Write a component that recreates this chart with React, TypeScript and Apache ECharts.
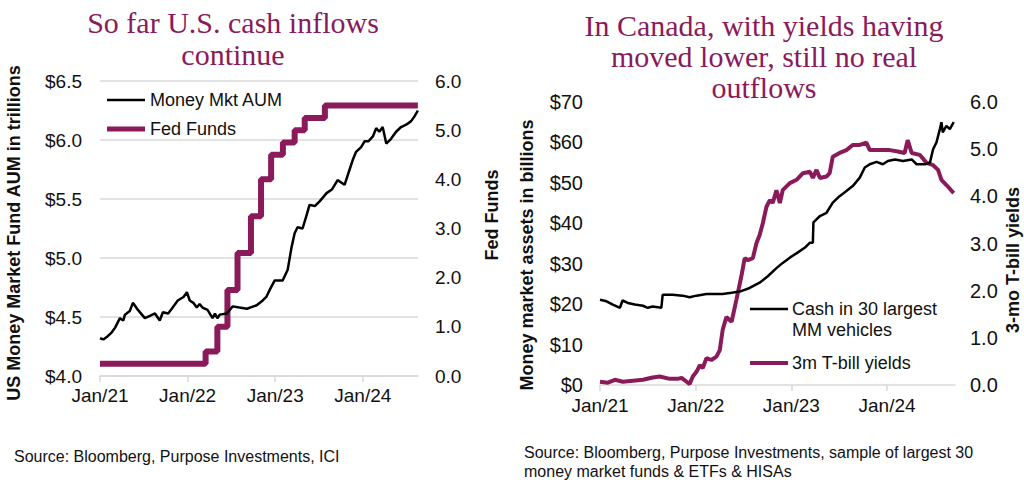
import React, { useEffect, useRef } from "react";
import * as echarts from "echarts";

const MAROON = "#8B1A5B";
const INK = "#111111";
const GRID = "#d9d9d9";
const SANS = "Liberation Sans, Arial, sans-serif";
const SERIF = "Liberation Serif, Times New Roman, serif";

// ---------- Left chart: U.S. ----------
const usTitle = "So far U.S. cash inflows\ncontinue";
const aumDates = [
  "2021-01-01", "2021-01-15", "2021-01-29", "2021-02-19", "2021-03-05", "2021-03-25", "2021-04-08",
  "2021-04-15", "2021-05-05", "2021-05-18", "2021-06-08", "2021-07-07", "2021-07-28", "2021-08-18",
  "2021-09-07", "2021-09-20", "2021-10-12", "2021-10-27", "2021-11-21", "2021-12-15", "2021-12-29",
  "2022-01-10", "2022-01-25", "2022-02-08", "2022-02-20", "2022-03-04", "2022-03-25", "2022-04-15",
  "2022-04-25", "2022-05-05", "2022-05-15", "2022-06-13", "2022-07-08", "2022-08-05", "2022-09-05",
  "2022-10-16", "2022-11-10", "2022-11-25", "2022-12-09", "2022-12-30", "2023-02-01", "2023-02-22",
  "2023-03-10", "2023-03-23", "2023-04-04", "2023-04-25", "2023-05-10", "2023-05-24", "2023-06-15",
  "2023-07-05", "2023-08-03", "2023-08-25", "2023-09-18", "2023-10-17", "2023-11-07", "2023-11-20",
  "2023-12-04", "2023-12-25", "2024-01-09", "2024-01-25", "2024-02-12", "2024-02-26", "2024-03-10",
  "2024-03-24", "2024-04-08", "2024-04-28", "2024-05-19", "2024-06-09", "2024-06-30", "2024-07-21",
  "2024-08-04", "2024-08-18",
];
const aumValues = [
  4.32, 4.31, 4.33, 4.37, 4.41, 4.49, 4.47,
  4.52, 4.55, 4.62, 4.56, 4.49, 4.51, 4.53,
  4.47, 4.54, 4.53, 4.57, 4.64, 4.67, 4.71,
  4.64, 4.62, 4.58, 4.61, 4.58, 4.56, 4.49,
  4.53, 4.49, 4.52, 4.53, 4.59, 4.58, 4.57,
  4.60, 4.64, 4.67, 4.73, 4.81, 4.81, 4.90,
  5.09, 5.21, 5.26, 5.25, 5.35, 5.45, 5.44,
  5.48, 5.55, 5.58, 5.66, 5.62, 5.75, 5.83,
  5.90, 5.94, 5.99, 5.99, 6.03, 6.10, 6.07,
  6.11, 5.97, 6.01, 6.07, 6.11, 6.13, 6.16,
  6.20, 6.25,
];
const fedDates = [
  "2021-01-01", "2022-03-17", "2022-05-05", "2022-06-16", "2022-07-28", "2022-09-22",
  "2022-11-03", "2022-12-15", "2023-02-02", "2023-03-23", "2023-05-04", "2023-07-27", "2024-08-18",
];
const fedValues = [0.25, 0.5, 1.0, 1.75, 2.5, 3.25, 4.0, 4.5, 4.75, 5.0, 5.25, 5.5, 5.5];

// ---------- Right chart: Canada ----------
const caTitle = "In Canada, with yields having\nmoved lower, still no real\noutflows";
const cashDates = [
  "2021-01-01", "2021-01-26", "2021-02-19", "2021-03-18", "2021-03-28", "2021-04-17", "2021-05-14",
  "2021-06-14", "2021-07-02", "2021-07-21", "2021-08-23", "2021-08-28", "2021-10-05", "2021-11-12",
  "2021-12-09", "2022-01-04", "2022-02-11", "2022-04-14", "2022-05-18", "2022-06-18", "2022-07-26",
  "2022-09-02", "2022-10-03", "2022-11-05", "2022-11-29", "2022-12-26", "2023-01-26", "2023-02-22",
  "2023-03-13", "2023-03-24", "2023-03-26", "2023-04-20", "2023-05-15", "2023-06-08", "2023-07-04",
  "2023-07-30", "2023-08-23", "2023-09-19", "2023-10-08", "2023-10-27", "2023-11-22", "2023-12-16",
  "2024-01-04", "2024-01-31", "2024-03-02", "2024-04-04", "2024-04-23", "2024-05-25", "2024-06-13",
  "2024-06-25", "2024-07-08", "2024-07-21", "2024-07-27", "2024-08-01", "2024-08-15", "2024-08-28",
  "2024-09-12",
];
const cashValues = [
  21.1, 20.7, 19.9, 19.1, 20.9, 20.3, 19.9,
  19.6, 19.1, 19.4, 19.1, 22.3, 22.3, 22.1,
  21.7, 22.1, 22.5, 22.5, 22.8, 23.1, 24.0,
  25.3, 26.9, 28.9, 30.2, 31.5, 32.8, 34.0,
  35.2, 35.2, 40.2, 41.8, 42.6, 45.1, 46.7,
  48.0, 49.2, 51.3, 53.8, 54.6, 55.2, 54.6,
  55.4, 55.8, 55.4, 55.8, 54.6, 54.6, 55.0,
  58.3, 60.0, 63.3, 65.0, 62.5, 64.1, 63.3,
  65.0,
];
const tbillDates = [
  "2021-01-01", "2021-01-31", "2021-02-27", "2021-03-29", "2021-05-06", "2021-06-14", "2021-07-21",
  "2021-08-17", "2021-09-24", "2021-10-24", "2021-11-08", "2021-11-27", "2021-12-09", "2021-12-21",
  "2022-01-04", "2022-01-17", "2022-01-28", "2022-02-11", "2022-03-02", "2022-03-21", "2022-04-03",
  "2022-04-14", "2022-04-28", "2022-05-18", "2022-06-05", "2022-06-24", "2022-07-07", "2022-07-19",
  "2022-08-07", "2022-08-21", "2022-09-02", "2022-09-14", "2022-09-28", "2022-10-11", "2022-10-22",
  "2022-11-05", "2022-11-18", "2022-11-29", "2022-12-26", "2023-01-21", "2023-02-14", "2023-03-13",
  "2023-03-24", "2023-04-07", "2023-04-20", "2023-05-15", "2023-05-27", "2023-06-08", "2023-07-04",
  "2023-07-30", "2023-08-23", "2023-09-19", "2023-10-14", "2023-10-27", "2023-12-04", "2024-01-11",
  "2024-02-11", "2024-03-08", "2024-03-20", "2024-04-04", "2024-05-05", "2024-05-31", "2024-06-25",
  "2024-07-14", "2024-07-27", "2024-08-15", "2024-09-12",
];
const tbillValues = [
  0.07, 0.05, 0.11, 0.07, 0.09, 0.11, 0.16,
  0.18, 0.13, 0.13, 0.15, 0.07, 0.02, 0.18,
  0.28, 0.42, 0.36, 0.57, 0.53, 0.6, 0.74,
  1.17, 1.44, 1.34, 1.8, 2.3, 2.69, 2.65,
  2.69, 3.01, 3.18, 3.43, 3.78, 3.92, 3.86,
  4.13, 3.86, 4.13, 4.28, 4.35, 4.49, 4.52,
  4.39, 4.56, 4.39, 4.42, 4.49, 4.84, 4.92,
  4.98, 5.09, 5.09, 5.14, 4.98, 4.98, 4.98,
  4.95, 4.92, 5.19, 4.92, 4.88, 4.71, 4.66,
  4.56, 4.35, 4.24, 4.07,
];

const yearTicks = [2021, 2022, 2023, 2024];

function toYear(d: string): number {
  const [y, m, day] = d.split("-").map(Number);
  const t0 = Date.UTC(y, 0, 1);
  const t = Date.UTC(y, m - 1, day);
  const t1 = Date.UTC(y + 1, 0, 1);
  return y + (t - t0) / (t1 - t0);
}
const pairs = (dates: string[], vals: number[]) => dates.map((d, i) => [toYear(d), vals[i]]);

function xAxisDef(gridIndex: number, max: number, size: number, margin: number) {
  return {
    type: "value",
    gridIndex,
    min: 2021,
    max,
    axisLine: { show: true, lineStyle: { color: GRID, width: 1.5 } },
    axisTick: { show: true, customValues: yearTicks, length: 6, lineStyle: { color: GRID, width: 1.5 } },
    axisLabel: {
      customValues: yearTicks,
      formatter: (v: number) => "Jan/" + String(Math.round(v)).slice(2),
      fontFamily: SANS,
      fontSize: size,
      color: INK,
      margin,
    },
    splitLine: { show: false },
  };
}

export default function App() {
  const ref = useRef<HTMLDivElement>(null);
  useEffect(() => {
    if (!ref.current) return;
    const chart = echarts.init(ref.current, undefined, { renderer: "svg" });
    const leftLabel = { fontFamily: SANS, fontSize: 19, color: INK };
    const rightLabel = { fontFamily: SANS, fontSize: 20, color: INK };
    const nameText = (text: string, x: number, y: number) => ({
      type: "text",
      x,
      y,
      rotation: Math.PI / 2,
      style: {
        text,
        fontFamily: SANS,
        fontSize: 18,
        fontWeight: "bold",
        fill: INK,
        align: "center",
        verticalAlign: "middle",
      },
    });
    const legendLine = (x: number, y: number, color: string, w: number) => ({
      type: "line",
      shape: { x1: x, y1: y, x2: x + 38, y2: y },
      style: { stroke: color, lineWidth: w },
    });
    const legendText = (text: string, x: number, y: number, size: number) => ({
      type: "text",
      x,
      y,
      style: { text, fontFamily: SANS, fontSize: size, fill: INK, align: "left", verticalAlign: "middle" },
    });

    chart.setOption({
      animation: false,
      backgroundColor: "#ffffff",
      title: [
        {
          text: usTitle,
          left: 233,
          top: 6,
          padding: 0,
          textAlign: "center",
          textStyle: { fontFamily: SERIF, fontSize: 30, fontWeight: "normal", color: MAROON, lineHeight: 32 },
        },
        {
          text: caTitle,
          left: 764,
          top: 10,
          padding: 0,
          textAlign: "center",
          textStyle: { fontFamily: SERIF, fontSize: 30, fontWeight: "normal", color: MAROON, lineHeight: 31 },
        },
      ],
      grid: [
        { left: 100, top: 81, width: 318, height: 295 },
        { left: 600, top: 102, width: 355, height: 283 },
      ],
      xAxis: [xAxisDef(0, 2024.63, 19, 10), xAxisDef(1, 2024.71, 19, 11)],
      yAxis: [
        {
          type: "value",
          gridIndex: 0,
          position: "left",
          min: 4,
          max: 6.5,
          interval: 0.5,
          axisLine: { show: false },
          axisTick: { show: false },
          axisLabel: { ...leftLabel, margin: 18, formatter: (v: number) => "$" + v.toFixed(1) },
          splitLine: { show: true, lineStyle: { color: GRID, width: 1.5 } },
        },
        {
          type: "value",
          gridIndex: 0,
          position: "right",
          min: 0,
          max: 6,
          interval: 1,
          axisLine: { show: false },
          axisTick: { show: false },
          axisLabel: { ...leftLabel, margin: 17, formatter: (v: number) => v.toFixed(1) },
          splitLine: { show: false },
        },
        {
          type: "value",
          gridIndex: 1,
          position: "left",
          min: 0,
          max: 70,
          interval: 10,
          axisLine: { show: false },
          axisTick: { show: false },
          axisLabel: { ...rightLabel, margin: 17, formatter: (v: number) => "$" + v },
          splitLine: { show: false },
        },
        {
          type: "value",
          gridIndex: 1,
          position: "right",
          min: 0,
          max: 6,
          interval: 1,
          axisLine: { show: false },
          axisTick: { show: false },
          axisLabel: { ...rightLabel, margin: 15, formatter: (v: number) => v.toFixed(1) },
          splitLine: { show: false },
        },
      ],
      series: [
        {
          name: "Fed Funds",
          type: "line",
          xAxisIndex: 0,
          yAxisIndex: 1,
          step: "end",
          showSymbol: false,
          data: pairs(fedDates, fedValues),
          lineStyle: { color: MAROON, width: 6 },
          itemStyle: { color: MAROON },
        },
        {
          name: "Money Mkt AUM",
          type: "line",
          xAxisIndex: 0,
          yAxisIndex: 0,
          showSymbol: false,
          data: pairs(aumDates, aumValues),
          lineStyle: { color: "#000000", width: 2.5 },
          itemStyle: { color: "#000000" },
        },
        {
          name: "3m T-bill yields",
          type: "line",
          xAxisIndex: 1,
          yAxisIndex: 3,
          showSymbol: false,
          data: pairs(tbillDates, tbillValues),
          lineStyle: { color: MAROON, width: 4 },
          itemStyle: { color: MAROON },
        },
        {
          name: "Cash in 30 largest MM vehicles",
          type: "line",
          xAxisIndex: 1,
          yAxisIndex: 2,
          showSymbol: false,
          data: pairs(cashDates, cashValues),
          lineStyle: { color: "#000000", width: 2.5 },
          itemStyle: { color: "#000000" },
        },
      ],
      graphic: [
        nameText("US Money Market Fund AUM in trillions", 14, 233),
        nameText("Fed Funds", 492, 215),
        nameText("Money market assets in billions", 527, 255),
        nameText("3-mo T-bill yields", 1013, 260),
        legendLine(107, 100, "#000000", 2.5),
        legendText("Money Mkt AUM", 150, 100, 18),
        legendLine(107, 129, MAROON, 5),
        legendText("Fed Funds", 150, 129, 18),
        legendLine(750, 309, "#000000", 2.5),
        {
          type: "text",
          x: 792,
          y: 298,
          style: {
            text: "Cash in 30 largest\nMM vehicles",
            fontFamily: SANS,
            fontSize: 18,
            fill: INK,
            align: "left",
            verticalAlign: "top",
            lineHeight: 21,
          },
        },
        legendLine(750, 363, MAROON, 4),
        legendText("3m T-bill yields", 792, 363, 18),
        {
          type: "text",
          x: 14,
          y: 456,
          style: { text: "Source: Bloomberg, Purpose Investments, ICI", fontFamily: SANS, fontSize: 16, fill: INK, align: "left", verticalAlign: "middle" },
        },
        {
          type: "text",
          x: 524,
          y: 443,
          style: {
            text: "Source: Bloomberg, Purpose Investments, sample of largest 30\nmoney market funds & ETFs & HISAs",
            fontFamily: SANS,
            fontSize: 16,
            fill: INK,
            align: "left",
            verticalAlign: "top",
            lineHeight: 19,
          },
        },
      ],
    });
    return () => chart.dispose();
  }, []);
  return (
    <div
      ref={ref}
      style={{ position: "fixed", left: 0, top: 0, width: 1024, height: 486, background: "#fff" }}
    />
  );
}
